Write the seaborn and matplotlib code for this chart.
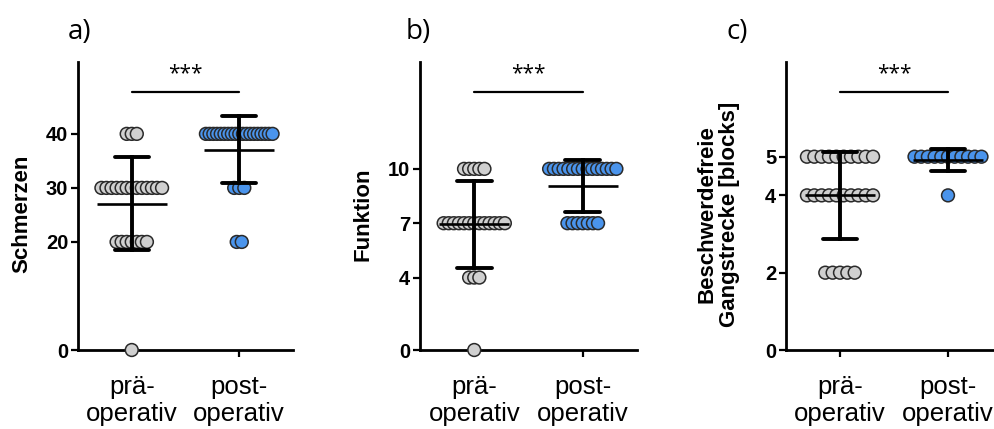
import numpy as np
import pandas as pd
import matplotlib
matplotlib.use("Agg")
import matplotlib.pyplot as plt
import seaborn as sns

# ---------------- data ----------------
categories = ["prä-\noperativ", "post-\noperativ"]
groups = ["pre", "post"]

# panel a: Schmerzen  (score value -> number of patients)
schmerzen_pre_values = [0, 20, 30, 40]
schmerzen_pre_counts = [1, 7, 13, 3]
schmerzen_post_values = [20, 30, 40]
schmerzen_post_counts = [2, 3, 19]

# panel b: Funktion
funktion_pre_values = [0, 4, 7, 10]
funktion_pre_counts = [1, 3, 13, 5]
funktion_post_values = [7, 10]
funktion_post_counts = [7, 15]

# panel c: Beschwerdefreie Gangstrecke [blocks]
gang_pre_values = [2, 4, 5]
gang_pre_counts = [5, 10, 10]
gang_post_values = [4, 5]
gang_post_counts = [1, 11]

ylabels = ["Schmerzen", "Funktion", "Beschwerdefreie\nGangstrecke [blocks]"]
yticks_a = [0, 20, 30, 40]
yticks_b = [0, 4, 7, 10]
yticks_c = [0, 2, 4, 5]
ytop_a, ytop_b, ytop_c = 53.3, 15.9, 7.45
panel_labels = ["a)", "b)", "c)"]
sig_label = "***"

# ---------------- styling ----------------
sns.set_style("ticks")
plt.rcParams["font.family"] = ["Liberation Sans", "DejaVu Sans"]
plt.rcParams["axes.edgecolor"] = "black"
plt.rcParams["xtick.color"] = "black"
plt.rcParams["ytick.color"] = "black"
plt.rcParams["text.color"] = "black"
plt.rcParams["axes.labelcolor"] = "black"

GRAY = "#d0d0d0"
BLUE = "#4a94ec"
EDGE = "#2a2a2a"

W, H = 994, 429
fig = plt.figure(figsize=(W / 100, H / 100), dpi=100)

axes_px = [(78, 293), (420, 637), (786, 1002)]
top_px, bottom_px = 62, 350
label_x_px = [68, 406, 727]
ylabel_right_px = [32, 373, 740]
row_step = [0.047, 0.047, 0.068]


def build_frame(pre_vals, pre_cnts, post_vals, post_cnts, step, cap=0.31):
    rows = []
    for gi, (vals, cnts) in enumerate([(pre_vals, pre_cnts), (post_vals, post_cnts)]):
        for v, n in zip(vals, cnts):
            half = min((n - 1) / 2 * step, cap)
            offs = np.linspace(-half, half, n) if n > 1 else np.array([0.0])
            for o in offs:
                rows.append({"pos": gi, "xpos": gi + o, "value": v, "group": groups[gi]})
    return pd.DataFrame(rows)


panels = [
    (schmerzen_pre_values, schmerzen_pre_counts, schmerzen_post_values, schmerzen_post_counts, yticks_a, ytop_a),
    (funktion_pre_values, funktion_pre_counts, funktion_post_values, funktion_post_counts, yticks_b, ytop_b),
    (gang_pre_values, gang_pre_counts, gang_post_values, gang_post_counts, yticks_c, ytop_c),
]

for i, (pv, pc, qv, qc, yt, ytop) in enumerate(panels):
    l, r = axes_px[i]
    ax = fig.add_axes([l / W, (H - bottom_px) / H, (r - l) / W, (bottom_px - top_px) / H])
    df = build_frame(pv, pc, qv, qc, row_step[i])

    sns.scatterplot(data=df, x="xpos", y="value", hue="group",
                    palette={"pre": GRAY, "post": BLUE}, s=85,
                    edgecolor=EDGE, linewidth=1.1, legend=False,
                    zorder=3, clip_on=False, ax=ax)
    sns.pointplot(data=df, x="pos", y="value", native_scale=True,
                  errorbar="sd", capsize=0.32, color="black",
                  marker="_", markersize=50, markeredgewidth=1.9,
                  linestyle="none", err_kws={"linewidth": 2.8, "zorder": 4},
                  zorder=4, ax=ax)

    ax.set_xlim(-0.5, 1.5)
    ax.set_ylim(0, ytop)
    ax.set_xticks([0, 1])
    ax.set_xticklabels(categories, fontsize=18.5, linespacing=1.15)
    ax.set_yticks(yt)
    ax.set_yticklabels([str(t) for t in yt], fontsize=14.5, fontweight="bold")
    ax.tick_params(axis="both", width=1.6, length=5, color="black")
    ax.tick_params(axis="x", pad=13)
    ax.tick_params(axis="y", pad=2)
    sns.despine(ax=ax)
    for sp in ("left", "bottom"):
        ax.spines[sp].set_linewidth(2.0)
        ax.spines[sp].set_color("black")

    ax.set_xlabel("")
    ax.set_ylabel(ylabels[i], fontsize=16, fontweight="bold", linespacing=1.1)
    ax.yaxis.set_label_coords((ylabel_right_px[i] - l) / (r - l), 0.472)

    tr = ax.get_xaxis_transform()
    ax.plot([0, 1], [0.896, 0.896], transform=tr, color="black", lw=1.6, clip_on=False)
    ax.text(0.5, 0.958, sig_label, transform=tr, ha="center", va="center",
            fontsize=15, family=["Open Sans", "DejaVu Sans"], clip_on=False)

    fig.text(label_x_px[i] / W, 1 - 32 / H, panel_labels[i], fontsize=20,
             family=["Open Sans", "DejaVu Sans"], ha="left", va="center")

fig.savefig("out.png", dpi=100)
